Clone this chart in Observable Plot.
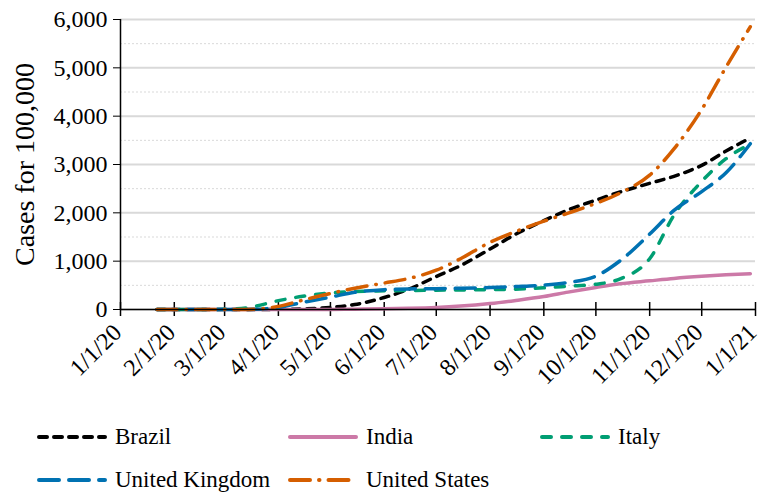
<!DOCTYPE html>
<html>
<head>
<meta charset="utf-8">
<script src="https://cdn.jsdelivr.net/npm/d3@7"></script>
<script src="https://cdn.jsdelivr.net/npm/@observablehq/plot@0.6"></script>
<style>
  html, body { margin: 0; padding: 0; background: #fff; }
  body { width: 761px; height: 492px; overflow: hidden; font-family: "Liberation Serif", serif; }
  #legend { display: grid; grid-template-columns: 251px 252px 250px; padding-left: 37px; margin-top: 15px; font-family: "Liberation Serif", serif; }
  .item { display: flex; align-items: center; height: 43px; font-size: 23px; color: #000; white-space: nowrap; }
  .item svg { margin-right: 8px; flex: none; }
</style>
</head>
<body>
<div id="chart"></div>
<div id="legend"></div>
<script>
// Dates of the observations
const dates = ["2020-01-22","2020-02-01","2020-02-15","2020-03-01","2020-03-15","2020-04-01","2020-04-15",
  "2020-05-01","2020-05-15","2020-06-01","2020-06-15","2020-07-01","2020-07-15","2020-08-01","2020-08-15",
  "2020-09-01","2020-09-15","2020-10-01","2020-10-15","2020-11-01","2020-11-15","2020-12-01","2020-12-15","2020-12-29"];

// Cumulative cases per 100,000 inhabitants
const brazil = [0,0,0,0,0.1,3,13,43,102,248,418,682,908,1251,1543,1839,2060,2262,2432,2611,2756,2982,3278,3550];
const india  = [0,0,0,0,0,0.2,0.9,2.5,6,14,24,42,70,123,183,267,360,457,532,593,642,686,717,741];
const italy  = [0,0,0,3,41,183,274,341,371,386,392,399,405,411,420,448,482,522,634,1050,1950,2650,3120,3420];
const uk     = [0,0,0,0,2,44,147,257,355,411,425,430,440,455,475,505,560,690,1010,1560,2050,2440,2830,3430];
const us     = [0,0,0,0,1,65,193,332,441,547,640,813,1051,1390,1601,1828,1994,2196,2411,2779,3323,4139,5015,5850];

const seriesNames = ["Brazil","India","Italy","United Kingdom","United States"];
const seriesValues = [brazil, india, italy, uk, us];
const seriesColors = ["#000000","#CC79A7","#009E73","#0072B2","#D55E00"];
const seriesDash = ["8,7", null, "9,11", "20,10", "20,9,0.5,9"];

// Tick labels
const xTicks = ["2020-01-01","2020-02-01","2020-03-01","2020-04-01","2020-05-01","2020-06-01","2020-07-01",
  "2020-08-01","2020-09-01","2020-10-01","2020-11-01","2020-12-01","2021-01-01"];
const yTicks = [0,1000,2000,3000,4000,5000,6000];
const yMinor = [500,1500,2500,3500,4500,5500];
const yTitle = "Cases for 100,000";

const parse = d3.utcParse("%Y-%m-%d");
const tickDates = xTicks.map(parse);
const fmtDate = d => `${d.getUTCMonth() + 1}/${d.getUTCDate()}/${String(d.getUTCFullYear()).slice(2)}`;

const lineMarks = seriesNames.map((name, i) => {
  const rows = dates.map((d, j) => ({date: parse(d), value: seriesValues[i][j]}));
  return Plot.line(rows, {
    x: "date", y: "value", stroke: seriesColors[i], strokeWidth: 3.5,
    strokeDasharray: seriesDash[i] ?? undefined, strokeLinecap: "round", curve: "monotone-x"
  });
});

const chart = Plot.plot({
  width: 761,
  height: 400,
  marginLeft: 120,
  marginRight: 6,
  marginTop: 19,
  marginBottom: 91,
  style: {fontFamily: "Liberation Serif", fontSize: "24px", color: "#000", background: "#fff"},
  x: {type: "utc", domain: [tickDates[0], tickDates[tickDates.length - 1]]},
  y: {domain: [0, 6000]},
  marks: [
    Plot.gridY(yMinor, {stroke: "#d9d9d9", strokeOpacity: 1, strokeWidth: 1, strokeDasharray: "2,2"}),
    Plot.gridY(yTicks, {stroke: "#d9d9d9", strokeOpacity: 1, strokeWidth: 2}),
    Plot.axisY(yTicks, {tickSize: 7, tickPadding: 6, tickFormat: d3.format(","), stroke: "#000",
      label: yTitle, labelAnchor: "center", labelArrow: "none", labelOffset: 106}),
    Plot.axisX(tickDates, {tickSize: 14, dy: -7, text: null, stroke: "#000", strokeWidth: 1.5, label: null}),
    Plot.axisX(tickDates, {tickSize: 0, tickPadding: 10, dx: -3, dy: 9, tickRotate: -45, tickFormat: fmtDate, label: null}),
    Plot.ruleX([tickDates[0]], {stroke: "#000", strokeWidth: 1.5}),
    ...lineMarks,
    Plot.ruleY([0], {stroke: "#000", strokeWidth: 1.5})
  ]
});
chart.querySelectorAll("text").forEach(t => {
  const isTitle = t.textContent === yTitle;
  t.setAttribute("font-family", "Liberation Serif");
  t.style.fontFamily = "Liberation Serif";
  t.style.fontSize = isTitle ? "28px" : "24px";
});
document.getElementById("chart").appendChild(chart);

// Legend
const legend = document.getElementById("legend");
seriesNames.forEach((name, i) => {
  const item = document.createElement("div");
  item.className = "item";
  const svg = d3.create("svg").attr("width", 70).attr("height", 10);
  svg.append("line").attr("x1", 2).attr("x2", 68).attr("y1", 5).attr("y2", 5)
    .attr("stroke", seriesColors[i]).attr("stroke-width", 4).attr("stroke-linecap", "round")
    .attr("stroke-dasharray", seriesDash[i]);
  item.appendChild(svg.node());
  const span = document.createElement("span");
  span.textContent = name;
  item.appendChild(span);
  legend.appendChild(item);
});
</script>
</body>
</html>
